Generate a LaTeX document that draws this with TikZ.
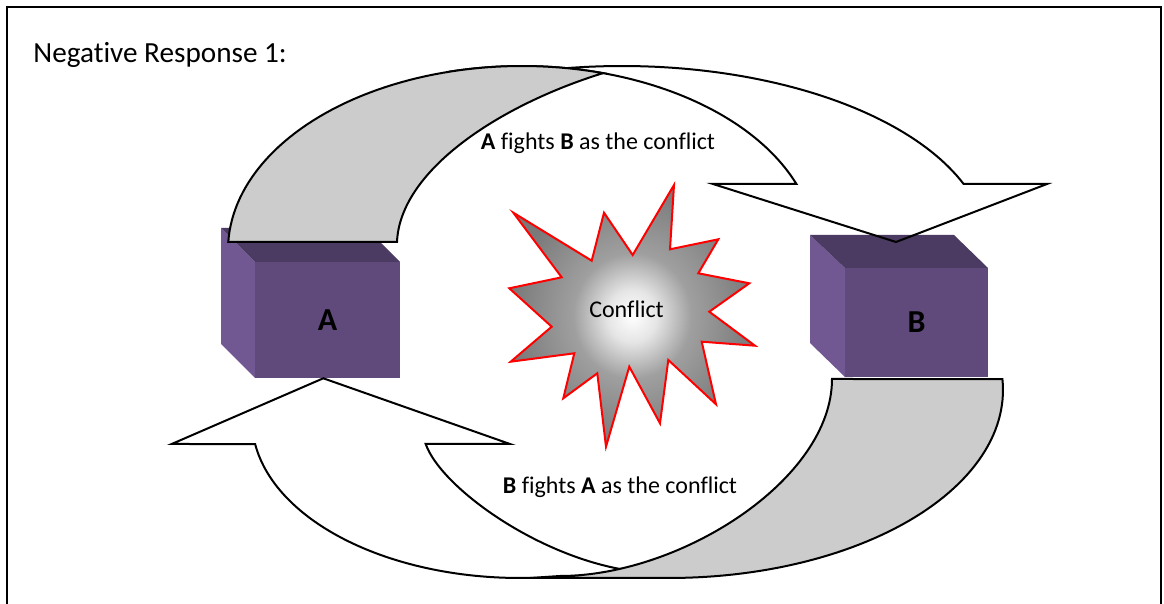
\documentclass[tikz,border=0pt]{standalone}
\usepackage{fontspec}
\setmainfont{Carlito}[Ligatures={NoCommon}]

\definecolor{boxfront}{RGB}{96,74,123}
\definecolor{boxtop}{RGB}{75,58,97}
\definecolor{boxside}{RGB}{114,88,146}
\definecolor{tailgrey}{RGB}{204,204,204}

\pgfdeclareradialshading{burst}{\pgfpointorigin}{%
  color(0bp)=(white); color(5bp)=(white!80!gray); color(12bp)=(gray!75);
  color(25bp)=(gray!95!black); color(50bp)=(gray!95!black)}

\begin{document}
\begin{tikzpicture}[
      x=0.5pt, y=-0.5pt,
      frame/.style={draw=black, line width=1pt},
      loop/.style={draw=black, line width=1pt, line join=miter},
      tail/.style={loop, fill=tailgrey},
      boxlabel/.style={inner sep=0pt, font=\fontsize{16}{19}\selectfont\bfseries},
      caption/.style={inner sep=0pt, anchor=base, font=\fontsize{12}{14.4}\selectfont}
    ]
    \useasboundingbox (0,0) rectangle (1164,604);

    % frame and title
    \draw[frame] (7,604) -- (7,7) -- (1161,7) -- (1161,604);
    \node[inner sep=0pt, anchor=base west, font=\fontsize{14.6}{17.5}\selectfont] (title) at (33,63) {Negative Response 1:};

    % box A
    \fill[boxside] (221,228) -- (255,262) -- (255,378) -- (221,344) -- cycle;
    \fill[boxtop] (221,228) -- (366,228) -- (400,262) -- (255,262) -- cycle;
    \fill[boxfront] (255,262) rectangle (400,378);
    \node[boxlabel] (a) at (327.5,320) {A};

    % box B
    \fill[boxside] (810,235) -- (845,268) -- (845,377) -- (810,343) -- cycle;
    \fill[boxtop] (810,235) -- (954,235) -- (988,268) -- (845,268) -- cycle;
    \fill[boxfront] (845,268) rectangle (988,377);
    \node[boxlabel] (b) at (916.5,322) {B};

    % upper arrow, A to B
    \draw[loop] plot[domain=105:21.02, samples=60, variable=\t] ({622+366*cos(\t)},{250-184*sin(\t)})
      -- (1047,184) -- (896,242) -- (713,184)
      -- plot[domain=21.02:105, samples=60, variable=\t] ({522+294*cos(\t)},{250-184*sin(\t)}) -- cycle;
    \draw[tail] plot[domain=177.5:74, samples=60, variable=\t] ({522+294*cos(\t)},{250-184*sin(\t)})
      .. controls (500,105) and (400,170) .. (397,242) -- cycle;

    % lower arrow, B to A
    \draw[loop] (425.7,444) .. controls (440,485) and (530,552) .. (620,569) -- (665,565) -- (665,578) -- (520,578)
      -- plot[domain=270:188.74, samples=60, variable=\t] ({520+268*cos(\t)},{420-158*sin(\t)})
      -- (171.7,444) -- (323.3,378.3) -- (510,444) -- cycle;
    \draw[tail] (832,379) -- plot[domain=3.35:-90, samples=60, variable=\t] ({669+334*cos(\t)},{390-188*sin(\t)})
      -- (530,578) -- (560,576) .. controls (680,576) and (832,480) .. (832,379) -- cycle;

    \node[caption] (atob) at (598,149.3) {\textbf{A} fights \textbf{B} as the conflict};
    \node[caption] (btoa) at (620,493.3) {\textbf{B} fights \textbf{A} as the conflict};

    % conflict burst
    \shadedraw[shading=burst, draw=red, line width=1pt, line join=miter]
      (513.3,212.7) -- (591.7,260.7) -- (604,212.7) -- (632.7,255) -- (674,185) -- (670,249.3)
      -- (718.3,239.3) -- (698.3,273.3) -- (749.3,283.3) -- (709.3,311.7) -- (755,345.7) -- (701.7,341.7)
      -- (716,404.3) -- (668.3,360) -- (660,423.3) -- (629.3,366.7) -- (606,446.7) -- (597.3,373.3)
      -- (563.3,398.3) -- (574.3,353.3) -- (510.7,361.7) -- (551.7,326.7) -- (509.3,288.3) -- (561.7,277.3) -- cycle;
    \node[caption] (conflict) at (626.5,317.3) {Conflict};

  \end{tikzpicture}
\end{document}
